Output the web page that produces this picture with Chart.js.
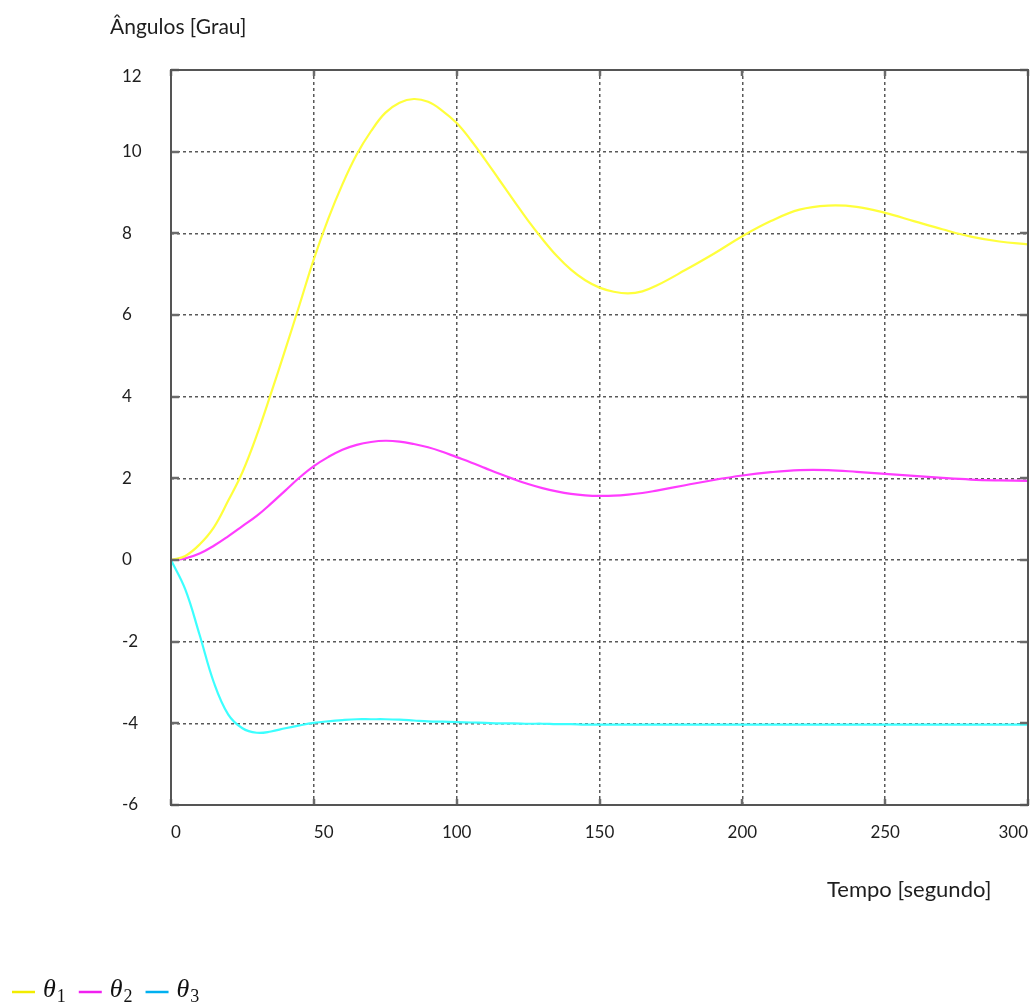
<!DOCTYPE html>
<html>
<head>
<meta charset="utf-8">
<script src="https://cdn.jsdelivr.net/npm/chart.js@4.4.1/dist/chart.umd.min.js"></script>
<style>
  html, body { margin: 0; padding: 0; background: #ffffff; }
  #wrap { width: 1031px; height: 1005px; }
</style>
</head>
<body>
<div id="wrap"><canvas id="c" width="1031" height="1005"></canvas></div>
<script>
// ---------- data ----------
const TIME = [0, 5, 10, 15, 20, 25, 30, 35, 40, 45, 50, 55, 60, 65, 70, 75, 80, 85, 90, 95, 100,
              105, 110, 115, 120, 125, 130, 135, 140, 145, 150, 155, 160, 165, 170, 180, 190, 200, 210, 220, 230, 240, 250,
              260, 270, 280, 290, 300];
const THETA1 = [0, 0.1, 0.38, 0.8, 1.45, 2.15, 3.05, 4.08, 5.15, 6.25, 7.37, 8.35, 9.2, 9.93, 10.5, 10.95, 11.2, 11.29, 11.22, 11.0, 10.7,
                10.28, 9.8, 9.3, 8.8, 8.31, 7.86, 7.45, 7.11, 6.85, 6.67, 6.57, 6.53, 6.58, 6.72, 7.1, 7.5, 7.93, 8.3, 8.58, 8.68, 8.65, 8.5,
                8.3, 8.1, 7.92, 7.8, 7.73];
const THETA2 = [0, 0.04, 0.16, 0.35, 0.58, 0.83, 1.08, 1.38, 1.7, 2.02, 2.3, 2.52, 2.7, 2.82, 2.89, 2.92, 2.9, 2.84, 2.76, 2.65, 2.52,
                2.39, 2.25, 2.11, 1.98, 1.86, 1.76, 1.68, 1.62, 1.585, 1.57, 1.575, 1.6, 1.64, 1.7, 1.83, 1.96, 2.07, 2.15, 2.2, 2.2, 2.16, 2.11,
                2.06, 2.01, 1.97, 1.95, 1.94];
const THETA3 = [0, -0.72, -1.83, -3.0, -3.78, -4.12, -4.23, -4.2, -4.12, -4.05, -3.99, -3.95, -3.92, -3.9, -3.9, -3.9, -3.91, -3.93, -3.95, -3.96, -3.97,
                -3.98, -3.99, -4.0, -4.0, -4.01, -4.01, -4.02, -4.02, -4.03, -4.03, -4.03, -4.03, -4.03, -4.03, -4.03, -4.03, -4.03, -4.03, -4.03, -4.03, -4.03, -4.03,
                -4.03, -4.03, -4.03, -4.03, -4.03];
const SERIES_BASE = ['θ', 'θ', 'θ'];
const SERIES_SUB = ['1', '2', '3'];
const X_TICKS = [0, 50, 100, 150, 200, 250, 300];
const Y_TICKS = [-6, -4, -2, 0, 2, 4, 6, 8, 10, 12];
const Y_TITLE = 'Ângulos [Grau]';
const X_TITLE = 'Tempo [segundo]';

// ---------- styles ----------
const LINE_COLORS = ['#ffff3c', '#ff3cff', '#3cffff'];
const LEGEND_COLORS = ['#f2ec00', '#f020f0', '#00b0f0'];
const TEXT_COLOR = '#1e1e1e';
const GRID_COLOR = 'rgba(60,60,60,0.85)';
const SANS = 'Lato';

function toPoints(vals) { return TIME.map((t, i) => ({ x: t, y: vals[i] })); }
const SERIES = [THETA1, THETA2, THETA3];

const datasets = SERIES.map((vals, i) => ({
  label: SERIES_BASE[i] + SERIES_SUB[i],
  data: toPoints(vals),
  borderColor: LINE_COLORS[i],
  backgroundColor: LINE_COLORS[i],
  borderWidth: 2.2,
  pointRadius: 0,
  pointHoverRadius: 0,
  fill: false,
  tension: 0.4
}));

function seg(ctx, x1, y1, x2, y2) { ctx.beginPath(); ctx.moveTo(x1, y1); ctx.lineTo(x2, y2); ctx.stroke(); }

const decorPlugin = {
  id: 'decor',
  beforeDraw(chart) {
    const items = chart.scales.x.getLabelItems();
    if (items && items.length > 2) {
      items[0].options.textAlign = 'left';
      items[1].options.textAlign = 'left';
      items[items.length - 1].options.textAlign = 'right';
    }
    const yItems = chart.scales.y.getLabelItems();
    if (yItems && yItems.length) {
      const top = yItems[yItems.length - 1];
      top.options.translation = [top.options.translation[0], top.options.translation[1] + 7];
    }
  },
  afterDatasetsDraw(chart) {
    const { ctx, chartArea: a, scales: { x, y } } = chart;
    ctx.save();
    ctx.setLineDash([]);
    ctx.strokeStyle = '#6c6c6c';
    ctx.lineWidth = 2.5;
    y.ticks.forEach(t => {
      const py = Math.round(y.getPixelForValue(t.value));
      seg(ctx, a.left, py, a.left + 8, py);
      seg(ctx, a.right - 8, py, a.right, py);
    });
    x.ticks.forEach(t => {
      const px = Math.round(x.getPixelForValue(t.value));
      seg(ctx, px, a.bottom, px, a.bottom - 6);
      seg(ctx, px, a.top, px, a.top + 6);
    });
    ctx.strokeStyle = '#555555';
    ctx.lineWidth = 2;
    ctx.strokeRect(a.left, a.top, a.right - a.left, a.bottom - a.top);
    ctx.restore();
  },
  afterDraw(chart) {
    const { ctx, chartArea: a } = chart;
    ctx.save();
    ctx.fillStyle = TEXT_COLOR;
    ctx.textBaseline = 'alphabetic';
    ctx.textAlign = 'left';
    ctx.font = '21px ' + SANS;
    ctx.fillText(Y_TITLE, a.left - 61, a.top - 36);
    ctx.font = '22px ' + SANS;
    ctx.fillText(X_TITLE, a.left + 656, a.bottom + 92);

    // legend
    let lx = 12;
    const ly = 992;
    SERIES.forEach((_, i) => {
      ctx.strokeStyle = LEGEND_COLORS[i];
      ctx.lineWidth = 2.5;
      seg(ctx, lx, ly, lx + 23, ly);
      lx += 31;
      ctx.fillStyle = '#111';
      ctx.font = 'italic 26px "Liberation Serif"';
      ctx.fillText(SERIES_BASE[i], lx, 997);
      lx += ctx.measureText(SERIES_BASE[i]).width + 1;
      ctx.font = '18px "Liberation Serif"';
      ctx.fillText(SERIES_SUB[i], lx, 1002);
      lx += ctx.measureText(SERIES_SUB[i]).width + 13;
    });
    ctx.restore();
  }
};

new Chart(document.getElementById('c'), {
  type: 'line',
  data: { datasets },
  options: {
    responsive: false,
    animation: false,
    events: [],
    layout: { padding: { left: 122, top: 70, right: 3, bottom: 140 } },
    plugins: { legend: { display: false }, tooltip: { enabled: false }, title: { display: false } },
    scales: {
      x: {
        type: 'linear',
        min: 0, max: 300,
        afterBuildTicks: s => { s.ticks = X_TICKS.map(v => ({ value: v })); },
        afterFit: s => { s.height = 60; s.paddingLeft = 0; s.paddingRight = 0; },
        ticks: { color: TEXT_COLOR, font: { family: SANS, size: 17 }, padding: 17, maxRotation: 0, autoSkip: false },
        grid: { color: GRID_COLOR, lineWidth: 1.5, drawTicks: false },
        border: { display: false, dash: [3, 3] }
      },
      y: {
        type: 'linear',
        min: -6, max: 12,
        afterBuildTicks: s => { s.ticks = Y_TICKS.map(v => ({ value: v })); },
        afterFit: s => { s.width = 49; s.paddingTop = 0; s.paddingBottom = 0; },
        ticks: { color: TEXT_COLOR, font: { family: SANS, size: 17 }, crossAlign: 'far', padding: 10 },
        grid: { color: GRID_COLOR, lineWidth: 1.5, drawTicks: false },
        border: { display: false, dash: [3, 3] }
      }
    }
  },
  plugins: [decorPlugin]
});
</script>
</body>
</html>
